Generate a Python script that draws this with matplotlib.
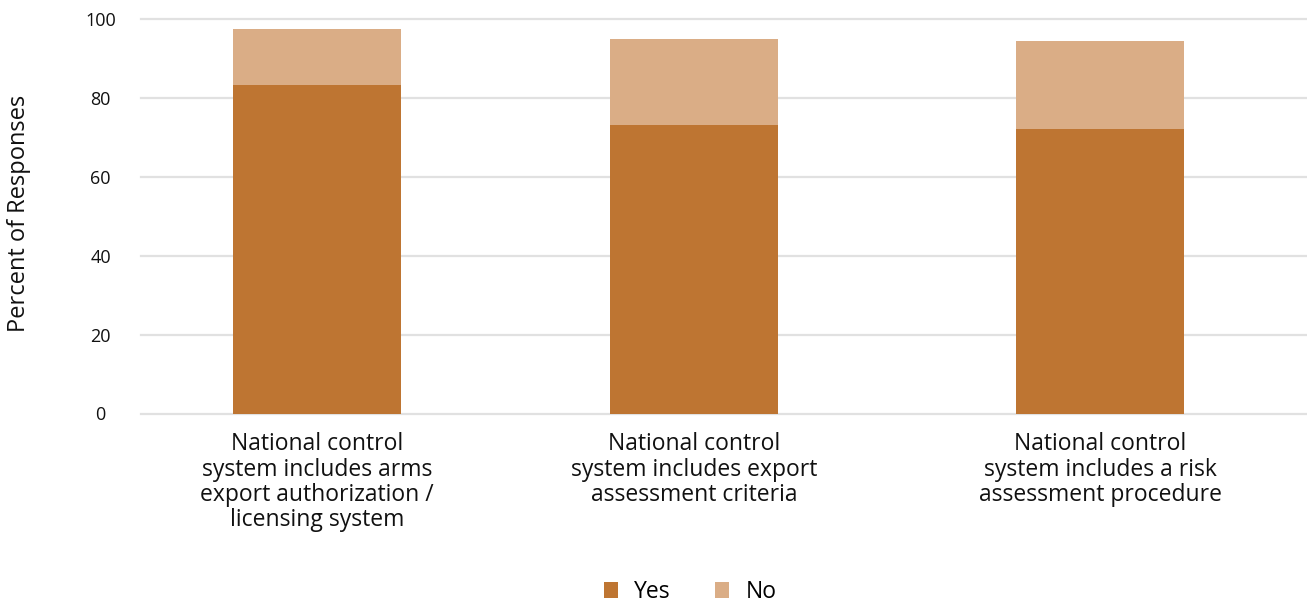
import matplotlib
matplotlib.use("Agg")
import matplotlib.pyplot as plt

categories = [
    "National control\nsystem includes arms\nexport authorization /\nlicensing system",
    "National control\nsystem includes export\nassessment criteria",
    "National control\nsystem includes a risk\nassessment procedure",
]
yes_pct = [83.2, 73.1, 72.1]
no_pct = [14.2, 21.8, 22.2]
y_ticks = [0, 20, 40, 60, 80, 100]

# bar centres (slightly uneven spacing, as laid out in the report)
xpos = [0.0, 1.0, 2.077]
bar_w = 0.446

yes_color = "#BE7532"
no_color = "#DAAD86"
grid_color = "#E1E1E1"

plt.rcParams["font.family"] = ["Open Sans", "DejaVu Sans"]

fig = plt.figure(figsize=(13.07, 6.03), dpi=100)
ax = fig.add_axes([141 / 1307, 1 - 413.5 / 603, 1165 / 1307, (413.5 - 18.7) / 603])

ax.bar(xpos, yes_pct, width=bar_w, color=yes_color, label="Yes", zorder=3)
ax.bar(xpos, no_pct, width=bar_w, bottom=yes_pct, color=no_color, label="No", zorder=3)

ax.set_ylim(0, 100)
ax.set_xlim(-0.467, 2.623)
ax.set_yticks(y_ticks)
ax.set_yticklabels([str(t) for t in y_ticks], fontsize=13, ha="center", color="#111111")
ax.set_xticks(xpos)
ax.set_xticklabels(categories, fontsize=16.5, color="#111111", linespacing=1.07)
ax.tick_params(axis="y", length=0, pad=29)
ax.tick_params(axis="x", length=0, pad=13.5)

for y in y_ticks:
    ax.axhline(y, color=grid_color, linewidth=1.6, zorder=1, clip_on=False)

for s in ax.spines.values():
    s.set_visible(False)

fig.text(19 / 1307, 1 - 213.5 / 603, "Percent of Responses", rotation=90,
         ha="center", va="center", fontsize=17, color="#111111")

leg = fig.legend(loc="center", bbox_to_anchor=(690 / 1307, 1 - 592 / 603), ncol=2,
                 frameon=False, fontsize=16.5, handlelength=0.64, handleheight=0.64,
                 handletextpad=0.7, columnspacing=1.9, borderpad=0.1)

fig.savefig("out.png", dpi=100)
